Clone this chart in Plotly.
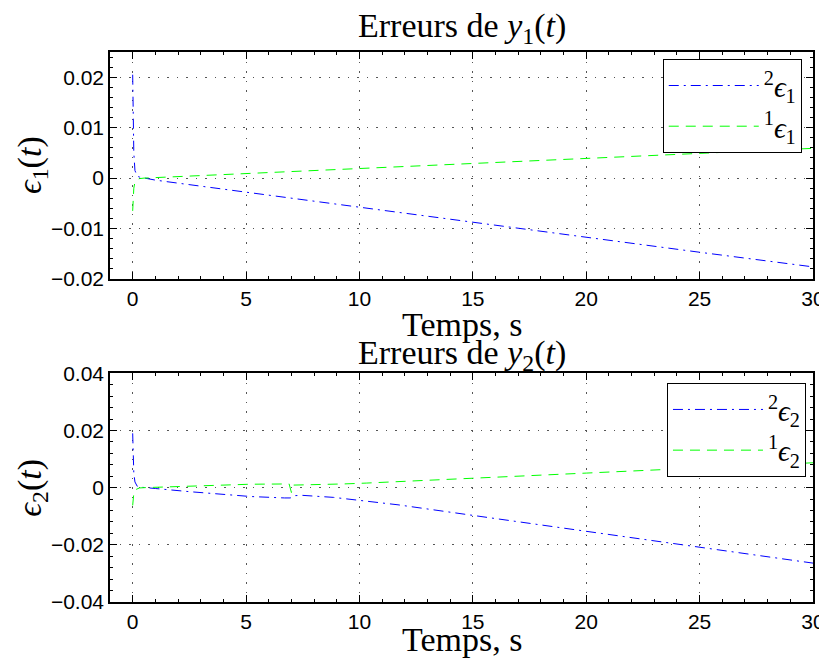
import plotly.graph_objects as go

# ---------------- data ----------------
t_top = [0, 0.02, 0.05, 0.1, 0.2, 0.3, 0.5, 1, 2, 5, 10, 15, 20, 25, 30]
e1_2 = [0.0205, 0.012, 0.005, 0.0015, 0.0004, 0.0002, 0.0, -0.0004, -0.001, -0.0028,
        -0.0058, -0.0088, -0.0117, -0.0147, -0.0176]
e1_1 = [-0.0065, -0.004, -0.002, -0.0008, -0.0003, -0.0001, 0.0, 0.0001, 0.0003, 0.0009,
        0.0019, 0.0029, 0.0039, 0.0049, 0.0059]

t_bot_b = [0, 0.02, 0.05, 0.1, 0.2, 0.3, 0.5, 1, 2.5, 5.2, 6.7, 6.95, 7.1, 7.5, 8.85,
           9.7, 10.4, 11.05, 11.7, 15, 20, 25, 30]
e2_2 = [0.019, 0.011, 0.005, 0.002, 0.0005, 0.0002, 0.0, -0.0003, -0.0014, -0.0031,
        -0.0036, -0.0036, -0.0028, -0.0027, -0.0034, -0.0042, -0.0049, -0.0055, -0.006,
        -0.0097, -0.0152, -0.0208, -0.0264]

t_bot_g = [0, 0.02, 0.05, 0.1, 0.2, 0.3, 0.5, 1.5, 5.2, 6.9, 7.0, 7.1, 8.0, 9.3, 10.3,
           11.5, 15, 20, 25, 30]
e2_1 = [-0.0062, -0.004, -0.002, -0.0008, -0.0003, -0.0001, 0.0, 0.0003, 0.0012, 0.0013,
        -0.0017, 0.0009, 0.0010, 0.0013, 0.0016, 0.002, 0.0033, 0.0051, 0.0069, 0.0087]

x_ticks = [0, 5, 10, 15, 20, 25, 30]
y_ticks_top = [-0.02, -0.01, 0, 0.01, 0.02]
y_ticks_bot = [-0.04, -0.02, 0, 0.02, 0.04]
y_labels_top = ["−0.02", "−0.01", "0", "0.01", "0.02"]
y_labels_bot = ["−0.04", "−0.02", "0", "0.02", "0.04"]

title_top = "Erreurs de <i>y</i><sub>1</sub>(<i>t</i>)"
title_bot = "Erreurs de <i>y</i><sub>2</sub>(<i>t</i>)"
xlabel = "Temps, s"
ylabel_top = "<i>ϵ</i><sub>1</sub>(<i>t</i>)"
ylabel_bot = "<i>ϵ</i><sub>2</sub>(<i>t</i>)"
names_top = ["<sup>2</sup><i>ϵ</i><sub>1</sub>", "<sup>1</sup><i>ϵ</i><sub>1</sub>"]
names_bot = ["<sup>2</sup><i>ϵ</i><sub>2</sub>", "<sup>1</sup><i>ϵ</i><sub>2</sub>"]

BLUE = "#0000ff"
GREEN = "#00ff00"
DASHDOT = "10px,5px,2px,5px"
DASH = "10px,7px"
SERIF = "Liberation Serif, DejaVu Serif, serif"
SANS = "Liberation Sans, Arial, sans-serif"

fig = go.Figure()
fig.add_trace(go.Scatter(x=t_top, y=e1_2, mode="lines", name=names_top[0],
                         line=dict(color=BLUE, width=1, dash=DASHDOT),
                         xaxis="x", yaxis="y", legend="legend"))
fig.add_trace(go.Scatter(x=t_top, y=e1_1, mode="lines", name=names_top[1],
                         line=dict(color=GREEN, width=1, dash=DASH),
                         xaxis="x", yaxis="y", legend="legend"))
fig.add_trace(go.Scatter(x=t_bot_b, y=e2_2, mode="lines", name=names_bot[0],
                         line=dict(color=BLUE, width=1, dash=DASHDOT),
                         xaxis="x2", yaxis="y2", legend="legend2"))
fig.add_trace(go.Scatter(x=t_bot_g, y=e2_1, mode="lines", name=names_bot[1],
                         line=dict(color=GREEN, width=1, dash=DASH),
                         xaxis="x2", yaxis="y2", legend="legend2"))

axis_common = dict(
    automargin=False,
    showline=True, linecolor="black", linewidth=1.5, mirror="allticks",
    ticks="inside", ticklen=7, tickcolor="black", tickwidth=1,
    showgrid=True, gridcolor="#555555", gridwidth=1, griddash="1.5px,8px",
    zeroline=False,
    tickfont=dict(family=SANS, size=21, color="black"),
    minor=dict(ticks="inside", ticklen=3, tickcolor="black", showgrid=False),
)

top_dom = [0.5873, 1.0]
bot_dom = [0.0, 0.4158]

legend_common = dict(
    xanchor="right", yanchor="top",
    bgcolor="white", bordercolor="black", borderwidth=1,
    font=dict(family=SERIF, size=29, color="black"),
    tracegroupgap=0, itemwidth=90,
)

# the page body adds an 8px offset: the figure is sized to end at the window edge
fig.update_layout(
    template="none",
    width=819, height=654,
    margin=dict(l=102, r=14, t=44, b=60),
    paper_bgcolor="white", plot_bgcolor="white",
    xaxis=dict(domain=[0, 1], anchor="y", range=[-1, 30], tickvals=x_ticks,
               minor_dtick=1, **axis_common),
    yaxis=dict(domain=top_dom, anchor="x", range=[-0.02, 0.025], tickvals=y_ticks_top,
               ticktext=y_labels_top, minor_dtick=0.002, **axis_common),
    xaxis2=dict(domain=[0, 1], anchor="y2", range=[-1, 30], tickvals=x_ticks,
                minor_dtick=1, **axis_common),
    yaxis2=dict(domain=bot_dom, anchor="x2", range=[-0.04, 0.04], tickvals=y_ticks_bot,
                ticktext=y_labels_bot, minor_dtick=0.004, **axis_common),
    legend=dict(x=0.984, y=0.987, **legend_common),
    legend2=dict(x=0.99, y=0.398, **legend_common),
    showlegend=True,
)

ann_font = dict(family=SERIF, size=34, color="black")
annotations = [
    dict(text=title_top, x=0.5, y=1.043, xref="paper", yref="paper",
         showarrow=False, xanchor="center", yanchor="middle", font=ann_font),
    dict(text=title_bot, x=0.5, y=0.449, xref="paper", yref="paper",
         showarrow=False, xanchor="center", yanchor="middle", font=ann_font),
    dict(text=xlabel, x=0.5, y=0.505, xref="paper", yref="paper",
         showarrow=False, xanchor="center", yanchor="middle", font=ann_font),
    dict(text=xlabel, x=0.5, y=-0.069, xref="paper", yref="paper",
         showarrow=False, xanchor="center", yanchor="middle", font=ann_font),
    dict(text=ylabel_top, x=-0.111, y=0.7945, xref="paper", yref="paper",
         showarrow=False, xanchor="center", yanchor="middle", textangle=-90, font=ann_font),
    dict(text=ylabel_bot, x=-0.111, y=0.2078, xref="paper", yref="paper",
         showarrow=False, xanchor="center", yanchor="middle", textangle=-90, font=ann_font),
]
fig.update_layout(annotations=annotations)

fig.write_html("out.html")
